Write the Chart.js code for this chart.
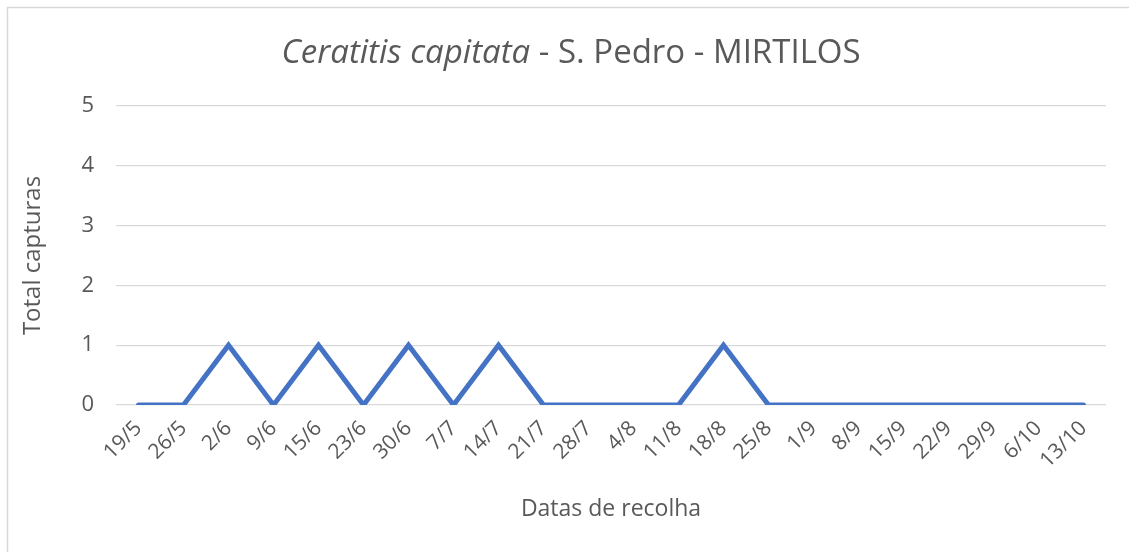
<!DOCTYPE html>
<html>
<head>
<meta charset="utf-8">
<script src="https://cdn.jsdelivr.net/npm/chart.js@4/dist/chart.umd.min.js"></script>
<style>
html,body{margin:0;padding:0;background:#fff;}
#wrap{width:1129px;height:552px;position:relative;}
</style>
</head>
<body>
<div id="wrap"><canvas id="c" width="1129" height="552"></canvas></div>
<script>
const categories = ["19/5","26/5","2/6","9/6","15/6","23/6","30/6","7/7","14/7","21/7","28/7","4/8","11/8","18/8","25/8","1/9","8/9","15/9","22/9","29/9","6/10","13/10"];
const capturas = [0,0,1,0,1,0,1,0,1,0,0,0,0,1,0,0,0,0,0,0,0,0];
const titleItalic = "Ceratitis capitata";
const titleRest = " - S. Pedro - MIRTILOS";
const yTitle = "Total capturas";
const xTitle = "Datas de recolha";

const FONT = "'Open Sans', 'Liberation Sans', sans-serif";
const GREY = '#595959';

const frame = {
  id: 'frame',
  beforeDraw(chart) {
    const ctx = chart.ctx;
    ctx.save();
    ctx.fillStyle = '#fff';
    ctx.fillRect(0, 0, chart.width, chart.height);
    ctx.strokeStyle = '#d9d9d9';
    ctx.lineWidth = 1.5;
    ctx.beginPath();
    ctx.moveTo(7.5, chart.height);
    ctx.lineTo(7.5, 7.5);
    ctx.lineTo(chart.width, 7.5);
    ctx.stroke();
    ctx.restore();
  },
  afterDraw(chart) {
    const ctx = chart.ctx;
    ctx.save();
    const size = 33;
    const fi = 'italic ' + size + 'px ' + FONT;
    const fn = size + 'px ' + FONT;
    ctx.font = fi; const w1 = ctx.measureText(titleItalic).width;
    ctx.font = fn; const w2 = ctx.measureText(titleRest).width;
    const total = w1 + w2;
    const cx = 571;
    let x = cx - total / 2;
    const y = 54;
    ctx.fillStyle = GREY;
    ctx.textBaseline = 'middle';
    ctx.textAlign = 'left';
    ctx.font = fi; ctx.fillText(titleItalic, x, y);
    ctx.font = fn; ctx.fillText(titleRest, x + w1, y);
    ctx.restore();
  }
};

new Chart(document.getElementById('c'), {
  type: 'line',
  data: {
    labels: categories,
    datasets: [{
      data: capturas,
      borderColor: '#4472C4',
      backgroundColor: '#4472C4',
      borderWidth: 5,
      pointRadius: 0,
      pointHoverRadius: 0,
      tension: 0,
      borderCapStyle: 'round',
      borderJoinStyle: 'miter',
      fill: false
    }]
  },
  options: {
    responsive: false,
    animation: false,
    layout: { padding: { top: 106, right: 23, left: 0, bottom: 0 } },
    plugins: { legend: { display: false }, tooltip: { enabled: false }, title: { display: false } },
    scales: {
      x: {
        offset: true,
        grid: { display: false },
        border: { display: false },
        ticks: {
          color: GREY,
          font: { family: FONT, size: 21 },
          minRotation: 45,
          maxRotation: 45,
          autoSkip: false,
          padding: 3
        },
        title: {
          display: true,
          text: xTitle,
          color: GREY,
          font: { family: FONT, size: 23 },
          padding: { top: 0, bottom: 29 }
        },
        afterFit(scale) { scale.height = 147; }
      },
      y: {
        min: 0,
        max: 5,
        ticks: {
          stepSize: 1,
          color: GREY,
          font: { family: FONT, size: 22 },
          padding: 22
        },
        grid: { color: '#d9d9d9', lineWidth: 1.3, drawTicks: false },
        border: { display: false },
        title: {
          display: true,
          text: yTitle,
          color: GREY,
          font: { family: FONT, size: 24 },
          padding: { top: 19, bottom: 0 }
        },
        afterFit(scale) { scale.width = 116; }
      }
    }
  },
  plugins: [frame]
});
</script>
</body>
</html>
